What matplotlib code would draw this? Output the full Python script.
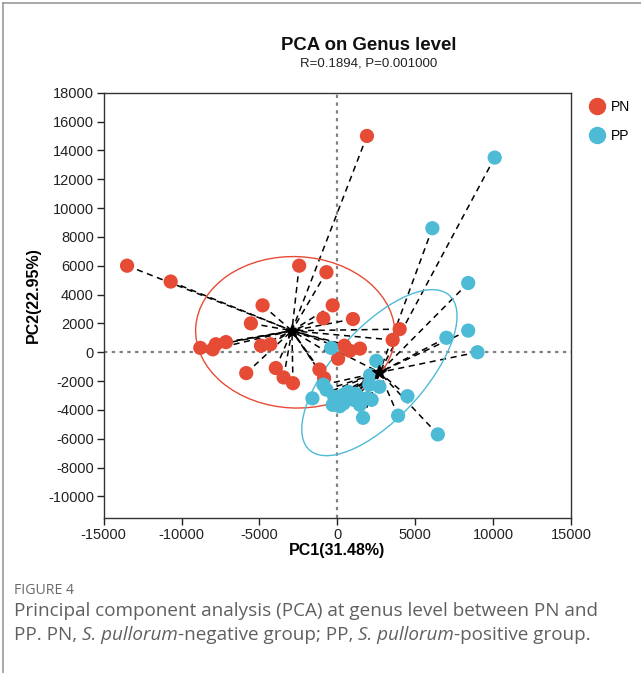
import numpy as np
import matplotlib
matplotlib.use("Agg")
import matplotlib.pyplot as plt
from matplotlib.patches import Ellipse
from matplotlib.lines import Line2D

# ---------------- data ----------------
groups = ["PN", "PP"]
colors = ["#E64B35", "#4DBBD5"]

pn_x = [-13500, -10700, -8800, -8000, -7800, -7150, -4800, -5550, -4900, -4300,
        -5850, -3950, -3450, -2850, -2450, -700, -300, -900, 1000, 4000,
        3550, 450, 800, 1450, 50, -1150, -850, 1900, 200]
pn_y = [6000, 4900, 300, 200, 550, 700, 3250, 2000, 450, 550,
        -1450, -1100, -1750, -2150, 6000, 5550, 3250, 2350, 2300, 1600,
        850, 450, 100, 250, -450, -1200, -1800, 15000, -3500]

pp_x = [10100, 6100, 8400, 8400, 7000, 9000, -400, 2500, 4500, 3900,
        6450, 2100, 2700, 2050, -900, -700, -1600, -200, 400, 700,
        1050, 1450, 1900, 2200, 400, 1650, 150, -300, 900, 1200]
pp_y = [13500, 8600, 4800, 1500, 1000, 0, 300, -600, -3050, -4400,
        -5700, -1600, -2400, -2250, -2250, -2600, -3200, -3100, -2950, -2750,
        -3300, -3650, -3200, -3300, -3550, -4550, -3750, -3650, -3000, -2900]

# ellipse parameters (center x, center y, width, height, angle)
pn_ellipse = [-2700, 1380, 12800, 10500, -3]
pp_ellipse = [2700, -1420, 14000, 6000, 51]

x_ticks = list(range(-15000, 15001, 5000))
y_ticks = list(range(-10000, 18001, 2000))

title = "PCA on Genus level"
subtitle = "R=0.1894, P=0.001000"
xlabel = "PC1(31.48%)"
ylabel = "PC2(22.95%)"

# ---------------- figure ----------------
W, H = 641, 673
fig = plt.figure(figsize=(W / 100, H / 100), dpi=100)
plt.rcParams['font.family'] = ['Liberation Sans', 'DejaVu Sans']

ax = fig.add_axes([103.7 / W, 1 - 518 / H, (571 - 103.7) / W, (518 - 92.7) / H])
ax.set_xlim(-15000, 15000)
ax.set_ylim(-11500, 18000)

ax.axhline(0, color="#808080", ls=(0, (1.5, 2)), lw=1.6, zorder=0)
ax.axvline(0, color="#808080", ls=(0, (1.5, 2)), lw=1.6, zorder=0)

for xs, ys, col, ell in [(pn_x, pn_y, colors[0], pn_ellipse),
                         (pp_x, pp_y, colors[1], pp_ellipse)]:
    xs = np.array(xs, float)
    ys = np.array(ys, float)
    cx, cy = xs.mean(), ys.mean()
    for x, y in zip(xs, ys):
        ax.plot([x, cx], [y, cy], color="black", lw=1.1, ls=(0, (4, 3)), zorder=1)
    e = Ellipse((ell[0], ell[1]), ell[2], ell[3], angle=ell[4], fill=False,
                edgecolor=col, lw=1.0, zorder=2)
    ax.add_patch(e)
    ax.scatter(xs, ys, s=105, color=col, edgecolors="none", zorder=3)
    ax.plot([cx], [cy], marker="*", color="black", ms=10, zorder=4)

for sp in ax.spines.values():
    sp.set_color("#333333")
    sp.set_linewidth(1.0)
ax.set_xticks(x_ticks)
ax.set_yticks(y_ticks)
ax.set_xticklabels([str(v) for v in x_ticks])
ax.set_yticklabels([str(v) for v in y_ticks])
ax.tick_params(axis="both", direction="out", length=5, width=1, labelsize=10.5,
               colors="#222222", pad=2)

fig.text(337 / W, 1 - 551 / H, xlabel, ha="center", va="center",
         fontsize=11.5, fontweight="bold")
fig.text(33 / W, 1 - 295 / H, ylabel, ha="center", va="center", rotation=90,
         fontsize=11.5, fontweight="bold")

fig.text(369 / W, 1 - 45 / H, title, ha="center", va="center",
         fontsize=13.4, fontweight="bold", color="#111111")
fig.text(369 / W, 1 - 64 / H, subtitle, ha="center", va="center",
         fontsize=9.5, color="#222222")

# legend
handles = [Line2D([], [], marker="o", ls="none", color=c, ms=11.5) for c in colors]
fig.legend(handles, groups, loc="upper left", bbox_to_anchor=(583 / W, 1 - 94 / H),
           frameon=False, fontsize=10, handletextpad=0.4, labelspacing=1.1,
           borderaxespad=0, handlelength=1.2)

# border lines
fig.add_artist(Line2D([3 / W, 3 / W], [0, 1 - 3 / H], color="#9a9a9a", lw=1.2,
                      transform=fig.transFigure))
fig.add_artist(Line2D([3 / W, 1], [1 - 3 / H, 1 - 3 / H], color="#9a9a9a", lw=1.2,
                      transform=fig.transFigure))

# caption
cap_color = "#606060"
cap_font = ["Open Sans", "DejaVu Sans"]
cap_size = 13.6
fig.text(14 / W, 1 - 590 / H, "FIGURE 4", ha="left", va="center",
         fontsize=10.2, color="#6a6a6a", family=cap_font)
fig.text(14 / W, 1 - 611 / H,
         "Principal component analysis (PCA) at genus level between PN and",
         ha="left", va="center", fontsize=cap_size, color=cap_color, family=cap_font)

renderer = fig.canvas.get_renderer()


def width_of(s, style):
    t = fig.text(0, 0, s, fontsize=cap_size, family=cap_font, style=style)
    w = t.get_window_extent(renderer).width
    t.remove()
    return w


space_w = width_of("a a", "normal") - width_of("aa", "normal")
pieces = [("PP. PN,", "normal", True), ("S. pullorum", "italic", False),
          ("-negative group; PP,", "normal", True), ("S. pullorum", "italic", False),
          ("-positive group.", "normal", False)]
xpix = 14
for s, st, sp_after in pieces:
    t = fig.text(xpix / W, 1 - 635 / H, s, ha="left", va="center", fontsize=cap_size,
                 color=cap_color, family=cap_font, style=st)
    xpix += t.get_window_extent(renderer).width + (space_w if sp_after else 0)

fig.savefig("out.png", dpi=100)
